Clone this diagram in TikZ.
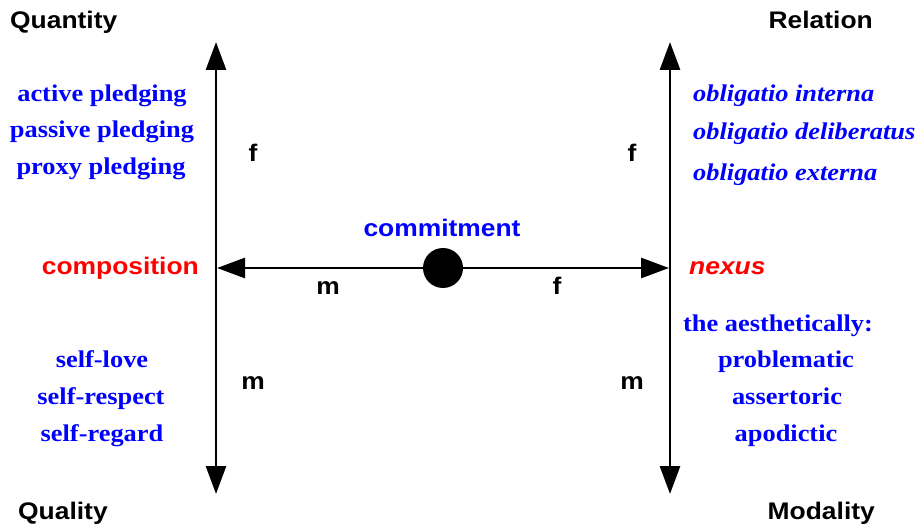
\documentclass[tikz,border=0pt]{standalone}
\usepackage{fontspec}
\setmainfont{Liberation Sans}[FakeStretch=1.1]
\newfontfamily\tnr{Liberation Serif}[FakeStretch=1.1]
\usetikzlibrary{arrows.meta}

\tikzset{
    pointe/.tip={Triangle[width=20pt,length=28pt]},
    axe/.style={line width=2.8pt},
    titre/.style={font=\bfseries\fontsize{24}{28}\selectfont, inner sep=0pt},
    liste/.style={font=\tnr\bfseries\fontsize{24}{28}\selectfont, text=blue, inner sep=0pt, anchor=base},
}

\begin{document}
\begin{tikzpicture}[x=1pt, y=-1pt]
    \useasboundingbox (0,0) rectangle (919,529);

    % Axes
    \coordinate (qh) at (216,42);
    \coordinate (qb) at (216,494);
    \coordinate (rh) at (670,42);
    \coordinate (rb) at (670,494);
    \coordinate (cg) at (217,268);
    \coordinate (cd) at (669,268);
    \draw[axe, pointe-pointe] (qh) -- (qb);
    \draw[axe, pointe-pointe] (rh) -- (rb);

    % Point central
    \node[circle, fill, minimum size=40pt, inner sep=0pt] (engagement) at (443,268) {};
    \draw[axe, -pointe] (engagement) -- (cg);
    \draw[axe, -pointe] (engagement) -- (cd);
    \node[titre, text=blue, anchor=base] (commitment) at (442,237) {commitment};
    \node[titre, text=red, anchor=base east] (composition) at (199,275) {composition};
    \node[titre, text=red, anchor=base west] (nexus) at (689,275) {\itshape nexus};

    % Coins
    \node[titre, anchor=base west] (quantity) at (10,29) {Quantity};
    \node[titre, anchor=base east] (relation) at (873,29) {Relation};
    \node[titre, anchor=base west] (quality) at (18,519) {Quality};
    \node[titre, anchor=base east] (modality) at (875,519) {Modality};

    % Etiquettes f et m
    \node[titre, anchor=base] (fqh) at (253,162) {f};
    \node[titre, anchor=base] (frh) at (632,162) {f};
    \node[titre, anchor=base] (mqb) at (253,390) {m};
    \node[titre, anchor=base] (mrb) at (632,390) {m};
    \node[titre, anchor=base] (mg) at (328,295) {m};
    \node[titre, anchor=base] (fd) at (557,295) {f};

    % Listes
    \node[liste] (active) at (102,102) {active pledging};
    \node[liste] (passive) at (102,138) {passive pledging};
    \node[liste] (proxy) at (101,175) {proxy pledging};
    \node[liste, anchor=base west] (interna) at (693,102) {\itshape obligatio interna};
    \node[liste, anchor=base west] (deliberatus) at (693,140) {\itshape obligatio deliberatus};
    \node[liste, anchor=base west] (externa) at (693,181) {\itshape obligatio externa};
    \node[liste] (selflove) at (102,368) {self-love};
    \node[liste] (selfrespect) at (101,405) {self-respect};
    \node[liste] (selfregard) at (102,442) {self-regard};
    \node[liste] (aesthetic) at (778,332) {the aesthetically:};
    \node[liste] (problematic) at (786,368) {problematic};
    \node[liste] (assertoric) at (787,405) {assertoric};
    \node[liste] (apodictic) at (786,442) {apodictic};
\end{tikzpicture}
\end{document}
